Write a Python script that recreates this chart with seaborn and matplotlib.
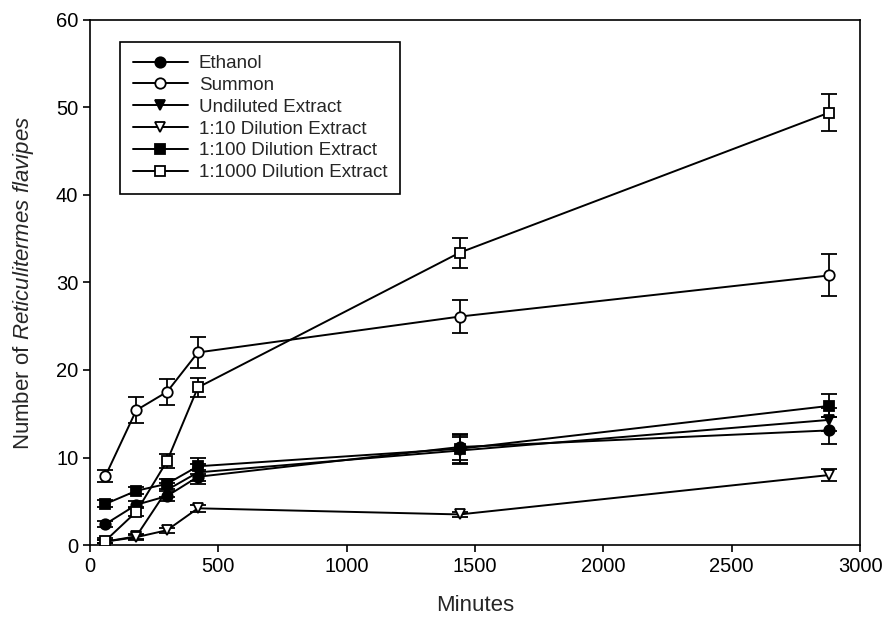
import numpy as np
import pandas as pd
import matplotlib
matplotlib.use("Agg")
import matplotlib.pyplot as plt
import seaborn as sns

# Datos (minutos vs número de termitas)
minutos = [60, 180, 300, 420, 1440, 2880]

etanol = [2.4, 4.6, 5.6, 7.8, 11.2, 13.1]
summon = [7.9, 15.4, 17.5, 22.0, 26.1, 30.8]
sin_diluir = [0.4, 1.0, 6.3, 8.3, 10.8, 14.3]
dil_10 = [0.4, 0.9, 1.7, 4.2, 3.5, 8.0]
dil_100 = [4.7, 6.2, 7.0, 9.0, 11.0, 15.9]
dil_1000 = [0.5, 3.8, 9.6, 18.0, 33.4, 49.4]

err_etanol = [0.3, 0.4, 0.6, 0.8, 1.5, 1.5]
err_summon = [0.7, 1.5, 1.5, 1.8, 1.9, 2.4]
err_sin_diluir = [0.2, 0.3, 0.8, 1.0, 1.5, 1.3]
err_10 = [0.2, 0.3, 0.3, 0.4, 0.3, 0.7]
err_100 = [0.4, 0.4, 0.6, 0.9, 1.6, 1.3]
err_1000 = [0.3, 0.5, 0.8, 1.1, 1.7, 2.1]

series = [
    ("Ethanol", etanol, err_etanol, "o", "black"),
    ("Summon", summon, err_summon, "o", "white"),
    ("Undiluted Extract", sin_diluir, err_sin_diluir, "v", "black"),
    ("1:10 Dilution Extract", dil_10, err_10, "v", "white"),
    ("1:100 Dilution Extract", dil_100, err_100, "s", "black"),
    ("1:1000 Dilution Extract", dil_1000, err_1000, "s", "white"),
]

sns.set_style("ticks")
plt.rcParams['font.family'] = ['Liberation Sans', 'DejaVu Sans']
plt.rcParams['mathtext.fontset'] = 'custom'
plt.rcParams['mathtext.it'] = 'Liberation Sans:italic'
plt.rcParams['mathtext.rm'] = 'Liberation Sans'

fig = plt.figure(figsize=(8.83, 6.18), dpi=100)
ax = fig.add_axes([0.102, 0.118, 0.872, 0.850])

for nombre, valores, errores, marcador, relleno in series:
    df = pd.DataFrame({"Minutos": minutos, "Valor": valores})
    ax.errorbar(minutos, valores, yerr=errores, fmt="none", ecolor="black",
                elinewidth=1.3, capsize=5.5, capthick=1.3, zorder=2)
    sns.lineplot(data=df, x="Minutos", y="Valor", ax=ax, color="black",
                 linewidth=1.4, marker=marcador, markersize=7.5,
                 markerfacecolor=relleno, markeredgecolor="black",
                 markeredgewidth=1.3, label=nombre, zorder=3)

ax.set_xlim(0, 3000)
ax.set_ylim(0, 60)
ax.set_xticks(np.arange(0, 3001, 500))
ax.set_yticks(np.arange(0, 61, 10))
ax.tick_params(direction="out", length=5, width=1.2, labelsize=14.5, colors="black")
for s in ax.spines.values():
    s.set_linewidth(1.2)
    s.set_color("black")

ax.set_xlabel("Minutes", fontsize=16, labelpad=14)
ax.set_ylabel(r"Number of $\it{Reticulitermes\ flavipes}$", fontsize=16, labelpad=14)

leg = ax.legend(loc="upper left", bbox_to_anchor=(0.039, 0.958), fontsize=13.5,
                frameon=True, fancybox=False, edgecolor="black", framealpha=1,
                handlelength=2.9, labelspacing=0.25, borderpad=0.7,
                handletextpad=0.6, borderaxespad=0)
leg.get_frame().set_linewidth(1.2)

fig.savefig("out.png", dpi=100)
